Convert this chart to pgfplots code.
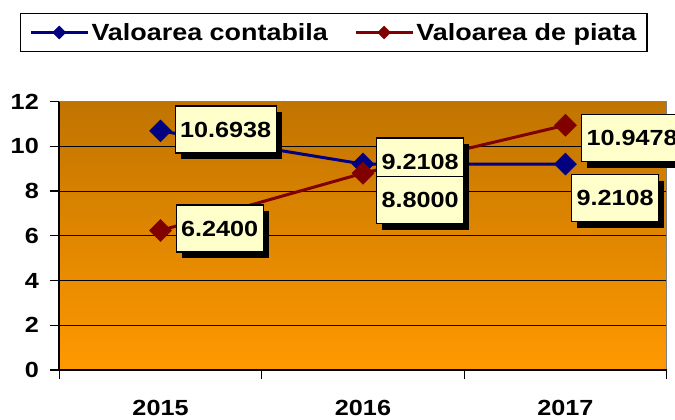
\documentclass[border=0pt]{standalone}
\usepackage{fontspec}
\setmainfont{Liberation Sans}[FakeStretch=1.15]
\usepackage{pgfplots}
\pgfplotsset{compat=1.18}
\usepackage{pgfplotstable}
\usetikzlibrary{shadows}
\definecolor{navyc}{RGB}{0,0,128}
\definecolor{maroonc}{RGB}{128,0,0}
\definecolor{bgtop}{RGB}{192,116,0}
\definecolor{bgbot}{RGB}{255,153,0}
\definecolor{lblfill}{RGB}{255,255,204}

\pgfplotstableread{
x y dx dy lab
0 10.6938 14 1.5 10.6938
1 9.2108 13 2.5 9.2108
2 9.2108 5.5 -34 9.2108
}\contabila
\pgfplotstableread{
x y dx dy lab
0 6.2400 15 2 6.2400
1 8.8000 13 -27 8.8000
2 10.9478 15.5 -13 10.9478
}\piata

\tikzset{lbl/.style={draw=black, line width=1.2bp, fill=lblfill,
  font=\bfseries\fontsize{22}{24}\selectfont, text=black,
  inner xsep=5bp, inner ysep=0pt, minimum height=47bp, text depth=0pt,
  drop shadow={shadow xshift=5.5bp, shadow yshift=-6bp, fill=black, opacity=1, draw=none}}}

\begin{document}
\begin{tikzpicture}
\path[use as bounding box] (-59.3bp,-50bp) rectangle (615.7bp,370bp);
\begin{axis}[
  scale only axis, width=607.4bp, height=268.3bp,
  at={(0,0)}, anchor=south west,
  xmin=-0.5, xmax=2.5, ymin=0, ymax=12,
  ytick={0,2,...,12},
  xtick={-0.5,0.5,1.5,2.5}, xticklabels={},
  extra x ticks={0,1,2}, extra x tick labels={2015,2016,2017},
  extra x tick style={grid=none, major tick length=0pt, xticklabel style={yshift=-27bp}},
  tick pos=left, tick align=outside,
  major tick length=9bp,
  tick style={black, line width=1.3bp},
  ymajorgrids, major grid style={black, line width=1.2bp},
  axis line style={draw=gray, line width=1.3bp},
  axis background/.style={top color=bgtop, bottom color=bgbot},
  ticklabel style={font=\bfseries\fontsize{22}{24}\selectfont},
  yticklabel style={xshift=-8bp},
  /pgf/number format/assume math mode=true,
  clip=false,
  legend columns=2,
  legend style={at={(0.4518,1.2579)}, anchor=center, draw=black, line width=1.3bp, fill=white,
    font=\bfseries\fontsize{23.5}{26}\selectfont,
    /tikz/every even column/.append style={column sep=24bp},
    inner xsep=8.5bp, inner ysep=7.5bp},
  legend image code/.code={\draw[mark repeat=2, mark phase=2, line width=3.5bp, mark size=4.6bp] plot coordinates {(0bp,0bp) (28.5bp,0bp) (57bp,0bp)};},
]
\addplot[color=navyc, line width=3bp, mark=square*, mark size=7.8bp, mark options={rotate=45, line width=0.4bp, solid}] table[x=x,y=y]{\contabila};
\addlegendentry{Valoarea contabila}
\addplot[color=maroonc, line width=3bp, mark=square*, mark size=7.8bp, mark options={rotate=45, line width=0.4bp, solid}] table[x=x,y=y]{\piata};
\addlegendentry{Valoarea de piata}

\addplot[draw=none, mark=none, forget plot,
  visualization depends on={\thisrow{dx} \as \lblx},
  visualization depends on={\thisrow{dy} \as \lbly},
  point meta=explicit symbolic,
  nodes near coords,
  nodes near coords style={lbl, anchor=west, xshift=\lblx*1bp, yshift=\lbly*1bp}]
  table[x=x,y=y,meta=lab]{\contabila};
\addplot[draw=none, mark=none, forget plot,
  visualization depends on={\thisrow{dx} \as \lblx},
  visualization depends on={\thisrow{dy} \as \lbly},
  point meta=explicit symbolic,
  nodes near coords,
  nodes near coords style={lbl, anchor=west, xshift=\lblx*1bp, yshift=\lbly*1bp}]
  table[x=x,y=y,meta=lab]{\piata};

\draw[black, line width=2bp] (rel axis cs:0,1) -- (rel axis cs:0,0) -- (rel axis cs:1,0);
\end{axis}
\end{tikzpicture}
\end{document}
